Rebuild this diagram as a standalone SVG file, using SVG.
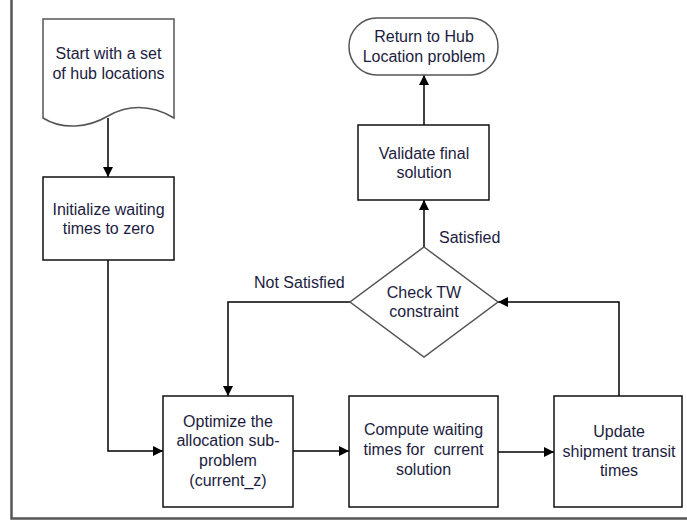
<svg xmlns="http://www.w3.org/2000/svg" width="687" height="523" viewBox="0 0 687 523">
<style>
  .box { fill: #ffffff; stroke: #111111; stroke-width: 1.5; }
  .soft { fill: #ffffff; stroke: #555555; stroke-width: 1.5; }
  .t { font-family: "Liberation Sans", Arial, sans-serif; font-size: 16px; fill: #1c1c40; text-anchor: middle; }
  .lbl { font-family: "Liberation Sans", Arial, sans-serif; font-size: 16px; fill: #1c1c40; }
  .edge { fill: none; stroke: #000000; stroke-width: 1.5; }
</style>
<defs>
  <marker id="arr" viewBox="0 0 10 10" refX="10" refY="5" markerWidth="10" markerHeight="10" markerUnits="userSpaceOnUse" orient="auto">
    <path d="M0,0 L10,5 L0,10 z" fill="#000000"/>
  </marker>
</defs>
<rect width="687" height="523" fill="#ffffff"/>
<g id="frame">
  <path d="M11.5,0 V518.5 H687" fill="none" stroke="#555555" stroke-width="2.5"/>
</g>
<g id="connectors">
  <path class="edge" d="M108,118 V177" marker-end="url(#arr)"/>
  <path class="edge" d="M108,260 V451 H163" marker-end="url(#arr)"/>
  <path class="edge" d="M293,451 H349" marker-end="url(#arr)"/>
  <path class="edge" d="M498,452 H554" marker-end="url(#arr)"/>
  <path class="edge" d="M619,396 V302 H498" marker-end="url(#arr)"/>
  <path class="edge" d="M350,302 H228 V396" marker-end="url(#arr)"/>
  <path class="edge" d="M424,247 V200" marker-end="url(#arr)"/>
  <path class="edge" d="M424,125 V75" marker-end="url(#arr)"/>
  <text class="lbl" x="254" y="288">Not Satisfied</text>
  <text class="lbl" x="439" y="243">Satisfied</text>
</g>
<g id="start">
  <path class="soft" d="M43,19 H174 V118 C150,104 128,105 108,116 C88,128 62,130 43,118 Z"/>
  <text class="t" x="108.5" y="59">Start with a set</text>
  <text class="t" x="108.5" y="79">of hub locations</text>
</g>
<g id="init">
  <rect class="box" x="43" y="177" width="131" height="83"/>
  <text class="t" x="108.5" y="215">Initialize waiting</text>
  <text class="t" x="108.5" y="234">times to zero</text>
</g>
<g id="optimize">
  <rect class="box" x="163" y="396" width="130" height="111"/>
  <text class="t" x="228" y="427">Optimize the</text>
  <text class="t" x="228" y="446">allocation sub-</text>
  <text class="t" x="228" y="466">problem</text>
  <text class="t" x="228" y="486">(current_z)</text>
</g>
<g id="compute">
  <rect class="box" x="349" y="396" width="149" height="111"/>
  <text class="t" x="423.5" y="435">Compute waiting</text>
  <text class="t" x="423.5" y="455" xml:space="preserve">times for  current</text>
  <text class="t" x="423.5" y="475">solution</text>
</g>
<g id="update">
  <rect class="box" x="554" y="396" width="128" height="111"/>
  <text class="t" x="619" y="437">Update</text>
  <text class="t" x="619" y="457">shipment transit</text>
  <text class="t" x="619" y="476">times</text>
</g>
<g id="check">
  <path class="soft" d="M424,247 L498,302 L424,357 L350,302 Z"/>
  <text class="t" x="424" y="298">Check TW</text>
  <text class="t" x="424" y="317">constraint</text>
</g>
<g id="validate">
  <rect class="box" x="358" y="125" width="131" height="75"/>
  <text class="t" x="424" y="159">Validate final</text>
  <text class="t" x="424" y="178">solution</text>
</g>
<g id="return">
  <rect class="soft" x="349" y="18" width="149" height="57" rx="28" ry="28"/>
  <text class="t" x="424" y="42">Return to Hub</text>
  <text class="t" x="424" y="62">Location problem</text>
</g>
</svg>
